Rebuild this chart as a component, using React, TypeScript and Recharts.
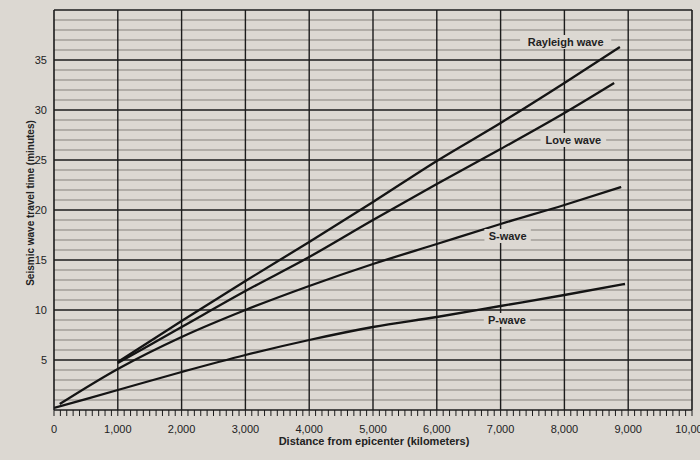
import React from 'react';
import { LineChart, Line, XAxis, YAxis, ReferenceLine, ReferenceDot } from 'recharts';

// ---- data ----
const rayleighKm = [1000, 2000, 3000, 4000, 5000, 6000, 7000, 8000, 8870];
const rayleighMin = [4.8, 8.9, 12.9, 16.8, 20.8, 24.9, 28.7, 32.7, 36.3];

const loveKm = [1000, 2000, 3000, 4000, 5000, 6000, 7000, 8000, 8780];
const loveMin = [4.7, 8.3, 11.9, 15.3, 19.0, 22.6, 26.1, 29.7, 32.7];

const sKm = [90, 1000, 2000, 3000, 4000, 5000, 6000, 7000, 8000, 8890];
const sMin = [0.6, 4.1, 7.3, 10.0, 12.4, 14.6, 16.6, 18.6, 20.5, 22.3];

const pKm = [0, 1000, 2000, 3000, 4000, 5000, 6000, 7000, 8000, 8950];
const pMin = [0.2, 2.0, 3.8, 5.5, 7.0, 8.3, 9.3, 10.4, 11.5, 12.6];

const labelNames = ['Rayleigh wave', 'Love wave', 'S-wave', 'P-wave'];
const labelKm = [8020, 8140, 7110, 7100];
const labelMin = [36.8, 27.0, 17.4, 9.0];

const xGridKm = [1000, 2000, 3000, 4000, 5000, 6000, 7000, 8000, 9000];
const xMinorTicks = Array.from({ length: 101 }, (_, i) => i * 100);
const yTicks = [5, 10, 15, 20, 25, 30, 35];
const yMinorLines = Array.from({ length: 40 }, (_, i) => i).filter((v) => v > 0 && v % 5 !== 0);

const toSeries = (km: number[], min: number[]) => km.map((d, i) => ({ d, t: min[i] }));
const series = [
  { name: 'Rayleigh wave', data: toSeries(rayleighKm, rayleighMin) },
  { name: 'Love wave', data: toSeries(loveKm, loveMin) },
  { name: 'S-wave', data: toSeries(sKm, sMin) },
  { name: 'P-wave', data: toSeries(pKm, pMin) },
];

const PAPER = '#dcd8d2';
const INK = '#1c1c1c';
const FONT = '"Liberation Sans", Arial, Helvetica, sans-serif';

const XTick = (props: any) => {
  const { x, y, payload } = props;
  if (payload.value % 1000 !== 0) return <g />;
  return (
    <text x={x} y={y} dy="0.71em" textAnchor="middle" fontSize={11} fill="#222" fontFamily={FONT}>
      {payload.value.toLocaleString('en-US')}
    </text>
  );
};

const YTick = (props: any) => {
  const { x, y, payload } = props;
  return (
    <text x={x} y={y} dy="0.35em" textAnchor="end" fontSize={11} fill="#222" fontFamily={FONT}>
      {payload.value}
    </text>
  );
};

const EmptyTick = () => <g />;

const makeLabelShape = (text: string) => (p: any) => {
  const w = text.length * 6.4 + 8;
  return (
    <g>
      <rect x={p.cx - w / 2} y={p.cy - 7} width={w} height={14} fill={PAPER} />
      <text x={p.cx} y={p.cy} dy="0.35em" textAnchor="middle" fontSize={11} fontWeight="bold" fill="#222" fontFamily={FONT}>
        {text}
      </text>
    </g>
  );
};

export default function App() {
  return (
    <div style={{ position: 'absolute', left: 0, top: 0, width: 700, height: 460, background: PAPER, overflow: 'hidden', fontFamily: FONT }}>
      <LineChart width={700} height={460} margin={{ top: 10, right: 8, bottom: 20, left: 14 }}>
        <XAxis
          type="number"
          dataKey="d"
          domain={[0, 10000]}
          ticks={xMinorTicks}
          interval={0}
          allowDataOverflow
          height={30}
          tick={XTick}
          tickSize={6}
          tickMargin={9}
          tickLine={{ stroke: INK, strokeWidth: 1 }}
          axisLine={{ stroke: INK, strokeWidth: 1.6 }}
        />
        <XAxis
          xAxisId="top"
          orientation="top"
          type="number"
          dataKey="d"
          domain={[0, 10000]}
          ticks={xMinorTicks}
          interval={0}
          height={0}
          mirror
          tick={EmptyTick}
          tickSize={5}
          tickLine={{ stroke: INK, strokeWidth: 1 }}
          axisLine={false}
        />
        <YAxis
          type="number"
          domain={[0, 40]}
          ticks={yTicks}
          interval={0}
          width={40}
          tick={YTick}
          tickLine={false}
          tickSize={0}
          tickMargin={7}
          axisLine={{ stroke: INK, strokeWidth: 1.6 }}
        />
        {yMinorLines.map((v) => (
          <ReferenceLine key={'ym' + v} y={v} stroke="#85817c" strokeWidth={1} />
        ))}
        {yTicks.map((v) => (
          <ReferenceLine key={'yM' + v} y={v} stroke={INK} strokeWidth={1.4} />
        ))}
        {xGridKm.map((v) => (
          <ReferenceLine key={'xM' + v} x={v} stroke={INK} strokeWidth={1.4} />
        ))}
        <ReferenceLine y={40} stroke={INK} strokeWidth={1.6} />
        <ReferenceLine x={10000} stroke={INK} strokeWidth={1.6} />
        {series.map((s) => (
          <Line
            key={s.name}
            data={s.data}
            dataKey="t"
            name={s.name}
            type="monotone"
            stroke="#141414"
            strokeWidth={2.3}
            dot={false}
            activeDot={false}
            isAnimationActive={false}
          />
        ))}
        {labelNames.map((n, i) => (
          <ReferenceDot key={n} x={labelKm[i]} y={labelMin[i]} r={0} shape={makeLabelShape(n)} />
        ))}
      </LineChart>
      <div
        style={{
          position: 'absolute',
          left: 0,
          width: 700,
          top: 435,
          textAlign: 'center',
          paddingLeft: 48,
          boxSizing: 'border-box',
          fontSize: 11,
          fontWeight: 'bold',
          color: '#222',
          whiteSpace: 'nowrap',
        }}
      >
        Distance from epicenter (kilometers)
      </div>
      <div
        style={{
          position: 'absolute',
          left: 30,
          top: 203,
          transform: 'translate(-50%, -50%) rotate(-90deg)',
          fontSize: 10,
          fontWeight: 'bold',
          color: '#222',
          whiteSpace: 'nowrap',
        }}
      >
        Seismic wave travel time (minutes)
      </div>
    </div>
  );
}
